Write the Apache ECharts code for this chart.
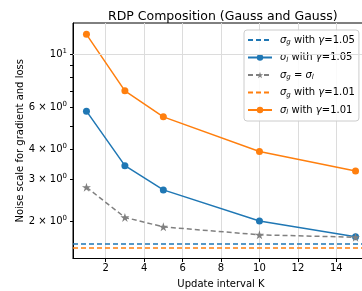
<!DOCTYPE html>
<html>
<head>
<meta charset="utf-8">
<script src="https://cdn.jsdelivr.net/npm/echarts@6/dist/echarts.min.js"></script>
<style>html,body{margin:0;padding:0;background:#fff}#c{width:362px;height:291px}</style>
</head>
<body>
<div id="c"></div>
<script>
// update interval K
const K = [1, 3, 5, 10, 15]
// noise scales
const sigmaL105 = [5.77, 3.41, 2.70, 2.00, 1.72]
const sigmaEq = [2.77, 2.07, 1.89, 1.75, 1.71]
const sigmaL101 = [12.1, 7.02, 5.46, 3.91, 3.24]
const sigmaG105 = 1.60
const sigmaG101 = 1.545
// ticks
const xTicks = [2, 4, 6, 8, 10, 12, 14]
const yTicks = [2, 3, 4, 5, 6, 7, 8, 9, 10]
const yLabels = [2, 3, 4, 6, 10]
const names = ['σg with γ=1.05', 'σl with γ=1.05', 'σg = σl', 'σg with γ=1.01', 'σl with γ=1.01']

const blue = '#1f77b4', orange = '#ff7f0e', gray = '#808080'
const star = 'path://M100,0L122.45,69.1L195.1,69.1L136.3,111.8L158.8,180.9L100,138.2L41.2,180.9L63.7,111.8L4.9,69.1L77.55,69.1Z'
const pair = (ys) => K.map((k, i) => [k, ys[i]])
const font = 'DejaVu Sans'

const legendText = {
  'σg with γ=1.05': '{i|σ}{s|g} with {i|γ}=1.05',
  'σl with γ=1.05': '{i|σ}{s|l} with {i|γ}=1.05',
  'σg = σl': '{i|σ}{s|g} = {i|σ}{s|l}',
  'σg with γ=1.01': '{i|σ}{s|g} with {i|γ}=1.01',
  'σl with γ=1.01': '{i|σ}{s|l} with {i|γ}=1.01'
}
// dashed-only entries get no marker in the legend
const legendData = names.map((n, i) => (i === 0 || i === 3) ? { name: n, itemStyle: { opacity: 0 } } : { name: n })

const chart = echarts.init(document.getElementById('c'))
chart.setOption({
  animation: false,
  textStyle: { fontFamily: font },
  title: {
    text: 'RDP Composition (Gauss and Gauss)',
    left: 103, top: 5,
    textStyle: { fontFamily: font, fontSize: 12.5, fontWeight: 'normal', color: '#000' }
  },
  grid: { left: 73, top: 23, width: 296, height: 235.5, outerBoundsMode: 'none', show: true, borderColor: '#000', borderWidth: 1, backgroundColor: 'transparent' },
  legend: {
    data: legendData,
    orient: 'vertical',
    left: 244, top: 30,
    itemWidth: 24, itemHeight: 8, itemGap: 6.5,
    padding: [5, 4, 5, 3],
    borderColor: '#cccccc', borderWidth: 1, borderRadius: 3,
    backgroundColor: 'rgba(255,255,255,0.85)',
    formatter: (n) => legendText[n],
    textStyle: {
      fontFamily: font, fontSize: 10, color: '#000', padding: [0, 0, 0, 3],
      rich: {
        i: { fontFamily: font, fontSize: 10, fontStyle: 'italic' },
        s: { fontFamily: font, fontSize: 7, fontStyle: 'italic', padding: [5, 0, 0, 0] }
      }
    }
  },
  xAxis: {
    type: 'value', min: 0.3, max: 15.7,
    name: 'Update interval K', nameLocation: 'middle', nameGap: 21,
    nameTextStyle: { fontFamily: font, fontSize: 10, color: '#000' },
    axisLine: { show: true, onZero: false, lineStyle: { color: '#000' } },
    axisTick: { show: true, length: 3.5, customValues: xTicks, lineStyle: { color: '#000' } },
    axisLabel: { customValues: xTicks, fontFamily: font, fontSize: 10, color: '#000', margin: 5 },
    splitLine: { show: true, lineStyle: { color: '#dcdcdc', width: 1 } }
  },
  yAxis: {
    type: 'log', logBase: 10, min: 1.393, max: 13.5,
    name: 'Noise scale for gradient and loss', nameLocation: 'middle', nameGap: 48,
    nameMoveOverlap: false,
    nameTextStyle: { fontFamily: font, fontSize: 10, color: '#000' },
    axisLine: { show: true, lineStyle: { color: '#000' } },
    axisTick: { show: true, length: 3, customValues: yTicks, lineStyle: { color: '#000' } },
    axisLabel: {
      customValues: yLabels, fontFamily: font, fontSize: 10, color: '#000', margin: 6,
      formatter: (v) => v === 10 ? '10{p|1}' : v + ' × 10{p|0}',
      rich: { p: { fontFamily: font, fontSize: 7, padding: [0, 0, 6, 0] } }
    },
    splitLine: { show: false }
  },
  series: [
    {
      name: 'grid', type: 'line', data: [], silent: true, z: 1,
      markLine: { silent: true, symbol: 'none', label: { show: false },
        lineStyle: { color: '#dcdcdc', type: 'solid', width: 1 }, data: [{ yAxis: 10 }] }
    },
    {
      name: names[0], type: 'line', data: [], symbol: 'none', color: blue,
      lineStyle: { color: blue, type: [5, 3], width: 1.5 },
      markLine: { silent: true, symbol: 'none', label: { show: false },
        lineStyle: { color: blue, type: [5, 3], width: 1.5 }, data: [{ yAxis: sigmaG105 }] }
    },
    {
      name: names[1], type: 'line', data: pair(sigmaL105), color: blue,
      symbol: 'circle', symbolSize: 7,
      lineStyle: { color: blue, width: 1.5 }, itemStyle: { color: blue }
    },
    {
      name: names[2], type: 'line', data: pair(sigmaEq), color: gray,
      symbol: star, symbolSize: 9,
      lineStyle: { color: gray, type: [5, 3], width: 1.5 }, itemStyle: { color: gray }
    },
    {
      name: names[3], type: 'line', data: [], symbol: 'none', color: orange,
      lineStyle: { color: orange, type: [5, 3], width: 1.5 },
      markLine: { silent: true, symbol: 'none', label: { show: false },
        lineStyle: { color: orange, type: [5, 3], width: 1.5 }, data: [{ yAxis: sigmaG101 }] }
    },
    {
      name: names[4], type: 'line', data: pair(sigmaL101), color: orange,
      symbol: 'circle', symbolSize: 7,
      lineStyle: { color: orange, width: 1.5 }, itemStyle: { color: orange }
    }
  ]
})
</script>
</body>
</html>
